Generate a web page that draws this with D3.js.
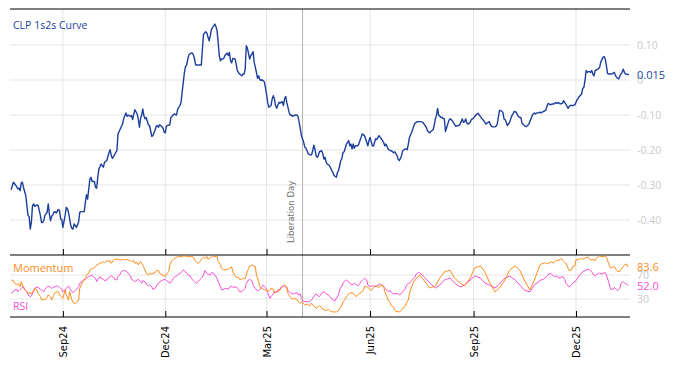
<!DOCTYPE html>
<html><head><meta charset="utf-8">
<script src="https://cdn.jsdelivr.net/npm/d3@7"></script>
<style>
html,body{margin:0;padding:0;background:#fff;}
svg{display:block;}
</style>
</head><body>
<script>
// ---------- DATA ----------
const startDate = "2024-07-16";
const endDate = "2026-01-18";
const eventDate = "2025-04-02";
const eventLabel = "Liberation Day";
const title = "CLP 1s2s Curve";

const xTickDates = ["2024-09-01","2024-12-01","2025-03-01","2025-06-01","2025-09-01","2025-12-01"];
const xTickLabels = ["Sep24","Dec24","Mar25","Jun25","Sep25","Dec25"];
const yTicks = [0.10, 0, -0.10, -0.20, -0.30, -0.40];
const yTickLabels = ["0.10","0","-0.10","-0.20","-0.30","-0.40"];
const indTicks = [70, 30];
const indTickLabels = ["70","30"];

// days since startDate
const curveDays = [1,3,5,7,8,9,10,11,12,14,15,16,17,18,19,20,21,22,23,24,25,27,28,29,30,31,33,34,35,36,37,38,39,40,41,43,44,45,46,47,49,50,51,52,53,54,55,56,57,59,60,61,62,63,65,66,67,68,69,70,71,72,73,75,76,77,78,79,81,82,83,84,85,86,88,89,90,91,92,94,95,96,97,98,100,101,102,103,104,105,107,108,109,110,111,113,114,115,116,117,118,119,120,121,123,124,125,126,127,129,130,131,132,133,134,136,137,138,139,140,
142,143,145,146,148,149,151,152,153,155,156,157,158,159,161,162,163,164,165,166,168,169,170,171,172,174,175,176,177,178,179,181,182,183,184,185,186,187,188,189,190,191,193,194,195,196,197,198,200,201,202,203,204,206,207,208,209,210,211,213,214,215,216,217,219,220,221,222,223,224,226,227,228,229,230,232,233,234,235,236,237,238,239,240,242,243,244,245,246,247,248,249,250,251,252,254,255,256,257,258,259,261,262,263,264,265,267,268,269,270,271,272,273,274,275,277,278,279,280,281,282,
284,285,286,287,288,290,291,292,293,294,295,296,297,299,300,301,302,303,304,305,306,307,309,310,311,312,313,315,316,317,318,319,320,322,323,324,325,326,327,328,329,330,332,333,334,335,336,338,339,340,341,342,344,345,346,347,348,349,351,352,353,354,355,357,358,359,360,361,362,364,365,367,368,370,371,372,373,374,376,377,378,379,380,381,383,384,385,386,387,389,390,391,392,393,394,396,397,398,399,400,402,403,404,405,406,407,409,410,411,412,413,415,416,417,418,419,421,422,423,424,425,
426,427,428,429,431,432,433,434,435,436,438,439,440,441,442,444,445,446,447,448,450,451,452,453,454,455,457,458,459,460,461,463,464,465,466,467,468,470,471,472,473,474,476,477,478,479,480,482,483,484,485,486,487,489,490,491,492,493,495,496,497,498,499,500,502,503,504,505,506,508,509,510,511,512,513,514,515,516,517,518,519,520,521,522,523,524,525,527,528,529,530,531,532,534,535,536,537,538,539,540,541,542,544,545,546,547,548,550];

const curveValues = [-0.314,-0.292,-0.300,-0.311,-0.309,-0.316,-0.294,-0.292,-0.307,-0.330,-0.359,-0.387,-0.390,-0.426,-0.407,-0.359,-0.354,-0.361,-0.359,-0.357,-0.359,-0.387,-0.407,-0.407,-0.402,-0.387,-0.378,-0.354,-0.383,-0.402,-0.389,-0.386,-0.378,-0.376,-0.380,-0.370,-0.373,-0.397,-0.399,-0.421,-0.387,-0.364,-0.368,-0.378,-0.397,-0.416,-0.424,-0.426,-0.411,-0.421,-0.414,-0.405,-0.378,-0.376,-0.376,-0.376,-0.349,-0.328,-0.340,-0.311,-0.283,-0.278,-0.290,-0.290,-0.307,-0.309,-0.278,-0.254,-0.240,-0.245,-0.249,-0.235,-0.233,-0.230,-0.207,-0.199,-0.216,-0.224,-0.219,-0.207,-0.202,-0.154,-0.147,-0.140,-0.126,-0.111,-0.102,-0.094,-0.104,-0.100,-0.104,-0.102,-0.113,-0.097,-0.085,-0.097,-0.111,-0.135,-0.111,-0.100,-0.083,-0.102,-0.111,-0.107,-0.128,-0.130,-0.145,-0.161,-0.159,-0.142,-0.132,-0.130,-0.135,-0.128,-0.130,-0.138,-0.149,-0.151,-0.132,-0.130,
-0.128,-0.107,-0.100,-0.097,-0.100,-0.083,-0.073,-0.064,-0.035,0.022,0.039,0.043,0.060,0.072,0.077,0.077,0.072,0.060,0.043,0.043,0.043,0.043,0.043,0.089,0.131,0.138,0.134,0.122,0.112,0.127,0.144,0.155,0.160,0.153,0.141,0.108,0.070,0.055,0.060,0.060,0.062,0.070,0.077,0.070,0.079,0.055,0.049,0.062,0.060,0.046,0.027,0.022,0.017,0.012,0.017,0.017,0.031,0.098,0.091,0.060,0.070,0.074,0.081,0.051,0.022,0.005,0.012,0.001,-0.001,0.001,-0.005,-0.021,-0.040,-0.064,-0.078,-0.073,-0.054,-0.045,-0.054,-0.073,-0.081,-0.073,-0.064,-0.066,-0.062,-0.073,-0.054,-0.047,-0.064,-0.078,-0.092,-0.100,-0.100,-0.104,-0.102,-0.100,-0.100,-0.104,-0.121,-0.140,-0.159,-0.178,-0.192,-0.195,-0.202,-0.211,-0.214,-0.214,-0.202,-0.186,-0.197,-0.216,-0.221,-0.216,-0.205,-0.202,-0.211,-0.226,-0.221,-0.235,-0.240,
-0.245,-0.252,-0.259,-0.264,-0.273,-0.278,-0.264,-0.259,-0.245,-0.230,-0.224,-0.207,-0.205,-0.183,-0.178,-0.173,-0.188,-0.183,-0.197,-0.183,-0.195,-0.188,-0.188,-0.183,-0.173,-0.164,-0.154,-0.159,-0.168,-0.178,-0.188,-0.173,-0.164,-0.188,-0.189,-0.178,-0.168,-0.170,-0.164,-0.159,-0.164,-0.168,-0.178,-0.188,-0.183,-0.189,-0.197,-0.202,-0.202,-0.205,-0.208,-0.205,-0.216,-0.227,-0.230,-0.224,-0.216,-0.202,-0.197,-0.197,-0.199,-0.183,-0.164,-0.149,-0.140,-0.130,-0.123,-0.121,-0.119,-0.119,-0.119,-0.121,-0.126,-0.135,-0.145,-0.149,-0.151,-0.147,-0.142,-0.130,-0.111,-0.102,-0.081,-0.100,-0.107,-0.107,-0.110,-0.111,-0.147,-0.126,-0.116,-0.111,-0.113,-0.116,-0.121,-0.132,-0.132,-0.130,-0.130,-0.126,-0.111,-0.121,-0.119,-0.111,-0.123,-0.126,-0.121,-0.113,-0.111,-0.109,-0.104,-0.097,-0.095,-0.100,-0.104,-0.109,-0.116,-0.121,-0.126,-0.123,-0.121,
-0.119,-0.128,-0.132,-0.134,-0.134,-0.132,-0.126,-0.107,-0.087,-0.087,-0.092,-0.111,-0.113,-0.121,-0.130,-0.121,-0.111,-0.102,-0.097,-0.090,-0.092,-0.100,-0.104,-0.107,-0.107,-0.123,-0.130,-0.133,-0.133,-0.130,-0.126,-0.111,-0.102,-0.097,-0.094,-0.097,-0.094,-0.094,-0.092,-0.094,-0.092,-0.090,-0.087,-0.078,-0.068,-0.068,-0.071,-0.068,-0.069,-0.067,-0.064,-0.067,-0.064,-0.068,-0.068,-0.066,-0.059,-0.064,-0.075,-0.081,-0.075,-0.073,-0.073,-0.073,-0.071,-0.064,-0.056,-0.052,-0.047,-0.040,-0.024,-0.021,-0.002,0.027,0.022,0.024,0.024,0.022,0.027,0.017,0.012,0.027,0.029,0.030,0.033,0.036,0.051,0.065,0.067,0.060,0.041,0.019,0.017,0.017,0.017,0.020,0.022,0.014,0.008,0.005,0.003,0.012,0.022,0.031,0.022,0.017,0.017,0.015];

const indDays = [1,3,4,6,7,9,10,12,13,15,16,18,19,21,22,24,25,27,28,30,31,33,34,36,37,39,40,42,43,44,46,47,49,50,52,53,55,56,58,59,61,62,64,65,67,68,70,71,73,74,76,77,79,80,81,83,84,86,87,89,90,92,93,95,96,98,99,101,102,104,105,107,108,110,111,113,114,116,117,118,120,121,123,124,126,127,129,130,132,133,135,136,138,139,141,142,144,145,147,148,150,151,153,154,155,157,158,160,161,163,164,166,167,169,170,172,173,175,176,178,179,181,182,184,185,187,188,190,191,192,194,195,197,198,200,201,203,204,206,207,209,210,212,213,215,216,218,219,221,222,224,225,227,228,229,231,232,234,235,237,238,240,241,243,244,246,247,249,250,252,253,255,256,258,259,261,262,264,265,266,268,269,271,272,274,275,277,278,280,281,283,284,286,287,289,290,292,293,295,296,298,299,301,302,304,305,306,308,309,311,312,314,315,317,318,320,321,323,324,326,327,329,330,332,333,335,336,338,339,341,342,343,345,346,348,349,351,352,354,355,357,358,360,361,363,364,369,373,378,382,386,391,395,400,404,409,413,418,422,426,431,435,440,444,449,453,457,462,466,471,472,474,475,477,478,480,481,483,484,486,487,489,490,492,493,494,496,497,499,500,502,503,505,506,508,509,511,512,514,515,517,518,520,521,523,524,526,527,529,530,532,533,534,536,537,539,540,542,543,545,546,548,549];

const momentum = [61.7,60.6,56.1,53.4,56.1,50.6,58.9,49.5,46.1,42.3,39.5,40.6,38.4,45.0,47.8,45.0,39.5,33.9,28.4,29.5,28.4,32.8,36.7,33.9,28.4,36.7,40.6,42.3,42.3,36.7,32.8,31.1,45.0,36.7,28.4,42.3,28.4,24.0,22.8,24.0,28.4,47.8,56.1,58.9,64.5,70.0,72.8,78.4,81.1,81.1,83.9,86.7,88.4,90.6,89.5,92.3,90.6,93.9,92.3,93.9,89.5,95.0,96.1,96.1,96.1,95.0,95.0,96.1,95.0,96.1,95.0,93.9,92.3,93.9,89.5,90.6,86.7,92.3,90.6,86.7,78.4,72.8,70.0,72.8,71.7,72.8,73.9,77.3,77.3,72.8,70.0,70.0,67.3,71.7,75.6,86.7,93.9,96.1,97.8,99.5,100.6,100.6,100.6,101.7,101.7,100.6,100.6,100.6,100.6,99.5,95.0,90.6,89.5,92.3,96.1,99.5,97.8,100.6,96.1,99.5,99.5,101.7,100.6,101.7,92.3,86.7,81.1,78.4,78.4,79.5,79.5,81.1,83.9,75.6,68.4,66.1,66.1,62.8,62.8,64.5,64.5,70.0,81.1,85.0,86.7,85.0,83.9,70.0,58.9,50.6,47.8,46.1,45.0,45.0,42.3,45.0,47.8,46.1,40.6,42.3,42.3,45.0,47.8,51.7,53.4,50.6,39.5,33.9,31.1,29.5,31.1,29.5,25.6,22.8,25.6,21.7,20.0,21.7,20.0,18.4,22.8,20.0,17.3,14.5,17.3,18.4,16.1,12.8,11.7,10.6,12.8,10.6,8.9,8.4,8.4,8.4,10.6,14.5,20.0,25.6,29.5,33.9,38.4,39.5,40.6,39.5,36.7,33.9,36.7,39.5,40.6,45.0,50.6,50.6,49.5,46.1,43.9,49.5,51.7,51.7,49.5,50.6,53.4,51.7,42.3,33.9,28.4,22.8,18.4,16.1,11.7,8.9,8.9,8.4,11.7,14.5,17.3,22.8,28.4,39.5,50.6,56.1,61.7,64.5,67.3,70.0,58.3,48.3,51.7,65.0,75.0,78.3,65.0,56.7,51.7,65.0,81.7,85.0,75.0,58.3,41.7,48.3,61.7,78.3,85.0,78.3,61.7,45.0,61.7,86.7,88.4,89.5,90.6,88.4,89.5,90.6,92.3,89.5,92.3,95.0,93.9,96.1,97.8,92.3,90.6,89.5,81.1,77.3,78.4,83.9,85.0,95.0,96.1,96.1,97.8,96.1,97.8,99.5,99.5,96.1,95.0,96.1,93.9,97.8,100.6,101.7,100.6,100.6,101.7,99.5,89.5,83.9,81.1,83.9,83.9,78.4,75.6,75.6,79.5,83.9,86.7,88.4,83.6];

const rsi = [39.5,42.3,45.0,46.1,42.3,46.1,47.8,50.6,45.0,42.3,36.7,33.9,35.0,42.3,47.8,49.5,49.5,46.1,45.0,42.3,46.1,50.6,51.7,49.5,47.8,49.5,50.6,51.7,50.6,49.5,46.1,42.3,45.0,47.8,51.7,47.8,42.3,40.6,43.9,46.1,50.6,56.1,58.9,61.7,62.8,64.5,67.3,68.4,69.5,67.3,64.5,58.9,64.5,67.3,64.5,62.8,60.6,61.7,64.5,67.3,68.4,66.1,62.8,61.7,67.3,71.7,75.6,77.3,77.3,75.6,72.8,68.4,62.8,60.6,58.9,61.7,62.8,58.9,56.1,60.6,58.9,55.0,51.7,53.4,50.6,46.1,47.8,51.7,56.1,58.9,60.6,61.7,62.8,60.6,58.9,56.1,60.6,64.5,67.3,68.4,71.7,72.8,75.6,78.4,77.3,72.8,70.0,68.4,64.5,60.6,58.9,56.1,58.9,62.8,64.5,70.0,77.3,72.8,71.7,70.0,73.9,72.8,70.0,64.5,58.9,50.6,45.0,46.1,47.8,47.8,46.1,49.5,51.7,49.5,49.5,50.6,46.1,42.3,42.3,43.9,47.8,56.1,61.7,62.8,60.6,53.4,47.8,45.0,43.9,46.1,50.6,53.4,49.5,46.1,40.6,31.1,33.9,38.4,42.3,40.6,45.0,46.1,50.6,51.7,50.6,47.8,43.9,40.6,39.5,38.4,39.5,40.6,36.7,38.4,31.1,25.6,25.6,25.6,25.6,25.6,28.4,31.1,36.7,38.4,35.0,33.9,39.5,42.3,40.6,38.4,36.7,33.9,31.1,28.4,27.3,31.1,36.7,46.1,51.7,57.3,60.6,61.7,58.9,56.1,53.4,55.0,56.1,53.4,51.7,56.1,58.9,62.8,64.5,61.7,53.4,50.6,51.7,51.7,50.6,51.7,53.4,55.0,53.4,50.6,47.8,45.0,42.3,43.9,40.6,38.4,38.4,39.5,38.4,36.7,39.5,42.3,46.1,51.7,56.1,56.1,60.6,62.8,67.3,71.7,73.9,73.9,65.0,56.7,48.3,53.3,61.7,65.0,56.7,50.0,53.3,61.7,68.3,65.0,56.7,53.3,48.3,55.0,65.0,68.3,61.7,53.3,45.0,41.7,53.3,60.6,61.7,62.8,64.5,67.3,70.0,72.8,71.7,68.4,67.3,68.4,66.1,64.5,67.3,66.1,62.8,56.1,51.7,50.6,53.4,56.1,58.9,60.6,66.1,70.0,72.8,75.6,77.3,78.4,79.5,78.4,75.6,71.7,68.4,70.0,72.8,72.8,71.7,72.8,73.9,70.0,58.9,50.6,46.1,46.1,49.5,46.1,43.9,47.8,56.1,58.9,57.3,55.0,52.0];

// ---------- CHART ----------
const W = 674, H = 366;
const L = 10, R = 630;
const topY0 = 9, topY1 = 255, botY1 = 317;
const BLUE = "#1c3f9e", ORANGE = "#ff8c1a", PINK = "#f64fd6";
const GRID = "#e5e5e5", LABEL = "#c9c9c9";

const parse = d3.utcParse("%Y-%m-%d");
const t0 = parse(startDate);
const dayToDate = d => new Date(t0.getTime() + d * 864e5);

const x = d3.scaleUtc().domain([parse(startDate), parse(endDate)]).range([L, R]);
const yTop = d3.scaleLinear().domain([-0.5, 0.2029]).range([topY1, topY0]);
const yBot = d3.scaleLinear().domain([0, 103.3]).range([botY1, topY1]);

const svg = d3.select("body").append("svg").attr("width", W).attr("height", H)
  .style("font-family", "'Open Sans', 'Noto Sans', sans-serif");
svg.append("rect").attr("width", W).attr("height", H).attr("fill", "#fff");

const tickDates = xTickDates.map(parse);

// horizontal gridlines
svg.append("g").selectAll("line").data(yTicks).join("line")
  .attr("x1", L).attr("x2", R).attr("y1", d => yTop(d)).attr("y2", d => yTop(d))
  .attr("stroke", GRID).attr("stroke-width", 1);
svg.append("g").selectAll("line").data(indTicks).join("line")
  .attr("x1", L).attr("x2", R).attr("y1", d => yBot(d)).attr("y2", d => yBot(d))
  .attr("stroke", GRID).attr("stroke-width", 1);
// vertical gridlines
svg.append("g").selectAll("line").data(tickDates).join("line")
  .attr("x1", d => x(d)).attr("x2", d => x(d)).attr("y1", topY0).attr("y2", botY1)
  .attr("stroke", GRID).attr("stroke-width", 1);

// event line
const ex = x(parse(eventDate));
svg.append("line").attr("x1", ex).attr("x2", ex).attr("y1", topY0).attr("y2", botY1)
  .attr("stroke", "#b4b4b4").attr("stroke-width", 1);
svg.append("text").attr("transform", `translate(${ex - 9},${topY1 - 12}) rotate(-90)`)
  .attr("font-family", "'DejaVu Sans', sans-serif").attr("font-size", 8.5)
  .attr("fill", "#707070").text(eventLabel);

// borders
[topY0, topY1, botY1].forEach(yy => {
  svg.append("line").attr("x1", L).attr("x2", R).attr("y1", yy).attr("y2", yy)
    .attr("stroke", "#000").attr("stroke-width", 1.2);
});

// x axes (ticks inward)
const xAxisTop = d3.axisBottom(x).tickValues(tickDates).tickSizeInner(-6).tickSizeOuter(0).tickFormat("");
svg.append("g").attr("transform", `translate(0,${topY1})`).call(xAxisTop)
  .call(g => g.select(".domain").remove());
const xAxisBot = d3.axisBottom(x).tickValues(tickDates).tickSizeInner(-6).tickSizeOuter(0)
  .tickFormat((d, i) => xTickLabels[i]);
svg.append("g").attr("transform", `translate(0,${botY1})`).call(xAxisBot)
  .call(g => g.select(".domain").remove())
  .call(g => g.selectAll("text")
    .attr("transform", "rotate(-90)").attr("x", -9).attr("y", 0).attr("dy", "0.35em")
    .style("text-anchor", "end").attr("fill", "#000")
    .attr("font-family", "'DejaVu Sans', sans-serif").attr("font-size", 10));

// y axes (right)
const yAxisTop = d3.axisRight(yTop).tickValues(yTicks).tickSize(0).tickPadding(7)
  .tickFormat((d, i) => yTickLabels[i]);
svg.append("g").attr("transform", `translate(${R},0)`).call(yAxisTop)
  .call(g => g.select(".domain").remove())
  .call(g => g.selectAll("text").attr("fill", LABEL).attr("font-size", 10.5)
    .attr("font-family", "'Open Sans', sans-serif"));
const yAxisBot = d3.axisRight(yBot).tickValues(indTicks).tickSize(0).tickPadding(7)
  .tickFormat((d, i) => indTickLabels[i]);
svg.append("g").attr("transform", `translate(${R},0)`).call(yAxisBot)
  .call(g => g.select(".domain").remove())
  .call(g => g.selectAll("text").attr("fill", LABEL).attr("font-size", 10.5)
    .attr("font-family", "'Open Sans', sans-serif"));

// series
const curve = curveDays.map((d, i) => ({date: dayToDate(d), v: curveValues[i]}));
const n = Math.min(indDays.length, momentum.length, rsi.length);
const ind = d3.range(n).map(i => ({date: dayToDate(indDays[i]), m: momentum[i], r: rsi[i]}));

svg.append("path").datum(ind)
  .attr("d", d3.line().x(d => x(d.date)).y(d => yBot(d.r)))
  .attr("fill", "none").attr("stroke", PINK).attr("stroke-width", 1);
svg.append("path").datum(ind)
  .attr("d", d3.line().x(d => x(d.date)).y(d => yBot(d.m)))
  .attr("fill", "none").attr("stroke", ORANGE).attr("stroke-width", 1);
svg.append("path").datum(curve)
  .attr("d", d3.line().x(d => x(d.date)).y(d => yTop(d.v)))
  .attr("fill", "none").attr("stroke", BLUE).attr("stroke-width", 1.4)
  .attr("stroke-linejoin", "round");

// last value labels
const lastC = curve[curve.length - 1], lastI = ind[ind.length - 1];
svg.append("text").attr("x", R + 7).attr("y", yTop(lastC.v)).attr("dy", "0.35em")
  .attr("fill", BLUE).attr("font-size", 11).text(d3.format(".3f")(lastC.v));
svg.append("text").attr("x", R + 7).attr("y", yBot(lastI.m)).attr("dy", "0.35em")
  .attr("fill", ORANGE).attr("font-size", 11).text(d3.format(".1f")(lastI.m));
svg.append("text").attr("x", R + 7).attr("y", yBot(lastI.r)).attr("dy", "0.35em")
  .attr("fill", PINK).attr("font-size", 11).text(d3.format(".1f")(lastI.r));

// panel labels
svg.append("text").attr("x", 13).attr("y", 28.5).attr("fill", BLUE).attr("font-size", 10.5).text(title);
svg.append("text").attr("x", 13).attr("y", 272).attr("fill", ORANGE).attr("font-size", 11).text("Momentum");
svg.append("text").attr("x", 13).attr("y", 310).attr("fill", PINK).attr("font-size", 10.5).text("RSI");
</script>
</body></html>
